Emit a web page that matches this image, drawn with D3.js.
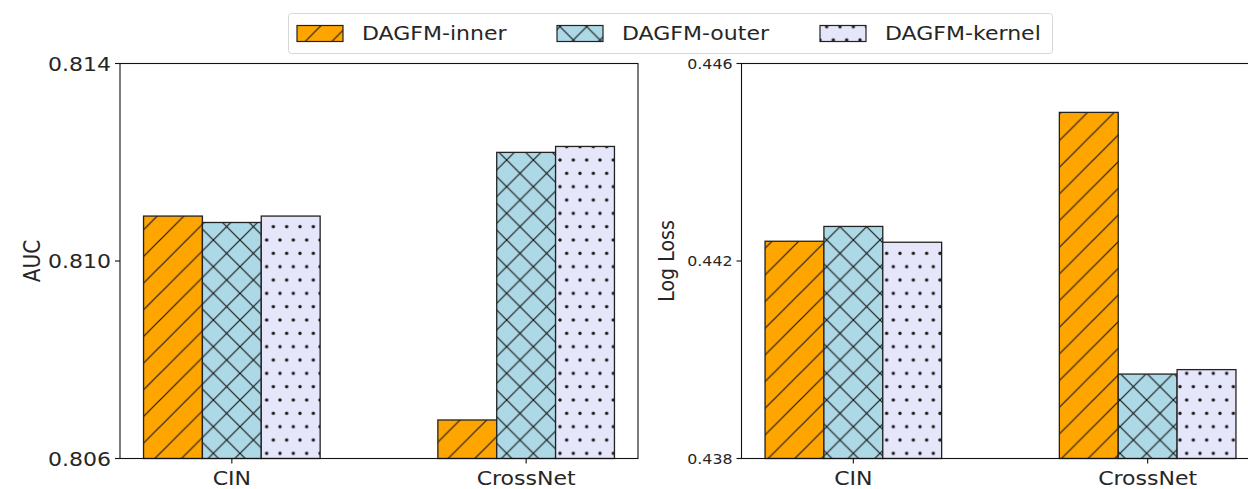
<!DOCTYPE html>
<html>
<head>
<meta charset="utf-8">
<script src="https://cdn.jsdelivr.net/npm/d3@7"></script>
<style>
  html, body { margin: 0; padding: 0; background: #fff; }
  text { font-family: "DejaVu Sans", sans-serif; fill: #262626; }
</style>
</head>
<body>
<div id="chart"></div>
<script>
// data
var models = ["CIN", "CrossNet"];
var variants = ["DAGFM-inner", "DAGFM-outer", "DAGFM-kernel"];
var aucInner = [0.81091, 0.80678];
var aucOuter = [0.81078, 0.81220];
var aucKernel = [0.81091, 0.81232];
var lossInner = [0.44240, 0.44501];
var lossOuter = [0.44270, 0.43971];
var lossKernel = [0.44238, 0.43980];
var aucTicks = [0.806, 0.810, 0.814];
var lossTicks = [0.438, 0.442, 0.446];

var colors = ["#FFA500", "#ADD8E6", "#E6E6FA"];
var hatchIds = ["hatch-slash", "hatch-cross", "hatch-dots"];
var sx = 1.13; // figure looks stretched horizontally

var width = 1248, height = 489;
var svg = d3.select("#chart").append("svg")
  .attr("width", width).attr("height", height);

// hatch patterns
var defs = svg.append("defs");
var tw = 80 / 3, th = 80 / 3;

var p1 = defs.append("pattern").attr("id", "hatch-slash")
  .attr("patternUnits", "userSpaceOnUse").attr("width", tw).attr("height", th);
p1.append("rect").attr("width", tw).attr("height", th).attr("fill", colors[0]);
p1.append("path")
  .attr("d", "M0," + th + "L" + tw + ",0" +
    "M" + (-tw / 2) + "," + (th / 2) + "L" + (tw / 2) + "," + (-th / 2) +
    "M" + (tw / 2) + "," + (th * 1.5) + "L" + (tw * 1.5) + "," + (th / 2))
  .attr("stroke", "#1a1a1a").attr("stroke-width", 1.2);

var p2 = defs.append("pattern").attr("id", "hatch-cross")
  .attr("patternUnits", "userSpaceOnUse").attr("width", tw).attr("height", th);
p2.append("rect").attr("width", tw).attr("height", th).attr("fill", colors[1]);
p2.append("path")
  .attr("d", "M0," + th + "L" + tw + ",0" +
    "M" + (-tw / 2) + "," + (th / 2) + "L" + (tw / 2) + "," + (-th / 2) +
    "M" + (tw / 2) + "," + (th * 1.5) + "L" + (tw * 1.5) + "," + (th / 2) +
    "M0,0L" + tw + "," + th +
    "M" + (-tw / 2) + "," + (th / 2) + "L" + (tw / 2) + "," + (th * 1.5) +
    "M" + (tw / 2) + "," + (-th / 2) + "L" + (tw * 1.5) + "," + (th / 2))
  .attr("stroke", "#1a1a1a").attr("stroke-width", 1.2);

var dw = 80 / 6, dh = 2 * 80 / 6;
var p3 = defs.append("pattern").attr("id", "hatch-dots")
  .attr("patternUnits", "userSpaceOnUse").attr("width", dw).attr("height", dh);
p3.append("rect").attr("width", dw).attr("height", dh).attr("fill", colors[2]);
[[0, 0], [dw, 0], [0, dh], [dw, dh], [dw / 2, dh / 2]].forEach(function (c) {
  p3.append("circle").attr("cx", c[0]).attr("cy", c[1]).attr("r", 1.7).attr("fill", "#1a1a1a");
});

function stretchedText(g, x, y, str, size, anchor) {
  var t = g.append("g").attr("transform", "translate(" + x + "," + y + ") scale(" + sx + ",1)")
    .append("text")
    .attr("text-anchor", anchor)
    .style("font-size", size + "px")
    .text(str);
  return t;
}

function drawPanel(opts) {
  var g = svg.append("g");
  var x = d3.scaleLinear().domain([-0.38, 1.38]).range([opts.left, opts.left + 518]);
  var y = d3.scaleLinear().domain([opts.ticks[0], opts.ticks[2]]).range([458.5, 63.5]);
  var barW = 0.2;

  opts.series.forEach(function (vals, j) {
    g.selectAll(null).data(vals).enter().append("rect")
      .attr("x", function (d, i) { return x(i + (j - 1) * barW - barW / 2); })
      .attr("y", function (d) { return y(d); })
      .attr("width", function (d, i) { return x(i + barW / 2) - x(i - barW / 2); })
      .attr("height", function (d) { return y(opts.ticks[0]) - y(d); })
      .attr("fill", "url(#" + hatchIds[j] + ")")
      .attr("stroke", "#222").attr("stroke-width", 1.3);
  });

  // frame
  g.append("rect")
    .attr("x", x.range()[0]).attr("y", 63.5)
    .attr("width", 518).attr("height", 395)
    .attr("fill", "none").attr("stroke", "#111").attr("stroke-width", 1.1);

  // y ticks
  opts.ticks.forEach(function (t) {
    g.append("line").attr("x1", x.range()[0] - 5).attr("x2", x.range()[0])
      .attr("y1", y(t)).attr("y2", y(t)).attr("stroke", "#111").attr("stroke-width", 1.1);
    stretchedText(g, x.range()[0] - 9, y(t) + opts.tickSize * 0.36, d3.format(".3f")(t), opts.tickSize, "end");
  });

  // x ticks
  models.forEach(function (m, i) {
    g.append("line").attr("x1", x(i)).attr("x2", x(i))
      .attr("y1", 458.5).attr("y2", 463.5).attr("stroke", "#111").attr("stroke-width", 1.1);
    stretchedText(g, x(i), 485, m, 19.5, "middle");
  });

  // y label
  g.append("text")
    .attr("transform", "translate(" + opts.labelX + "," + opts.labelY + ") rotate(-90) scale(1," + sx + ")")
    .attr("text-anchor", "middle")
    .style("font-size", opts.labelSize + "px")
    .text(opts.label);
}

drawPanel({ left: 120, ticks: aucTicks, series: [aucInner, aucOuter, aucKernel],
  tickSize: 19.5, label: "AUC", labelX: 40, labelY: 261, labelSize: 20 });
drawPanel({ left: 741.5, ticks: lossTicks, series: [lossInner, lossOuter, lossKernel],
  tickSize: 14, label: "Log Loss", labelX: 674, labelY: 261, labelSize: 19 });

// legend
var leg = svg.append("g");
leg.append("rect").attr("x", 288.5).attr("y", 13.5).attr("width", 764).attr("height", 40)
  .attr("rx", 3).attr("fill", "#fff").attr("stroke", "#d6d6d6").attr("stroke-width", 1);
var legX = [297, 557, 820];
variants.forEach(function (v, j) {
  leg.append("rect").attr("x", legX[j]).attr("y", 25.5).attr("width", 46).attr("height", 16)
    .attr("fill", "url(#" + hatchIds[j] + ")").attr("stroke", "#222").attr("stroke-width", 1.2);
  stretchedText(leg, legX[j] + 65, 40, v, 19.5, "start");
});
</script>
</body>
</html>
